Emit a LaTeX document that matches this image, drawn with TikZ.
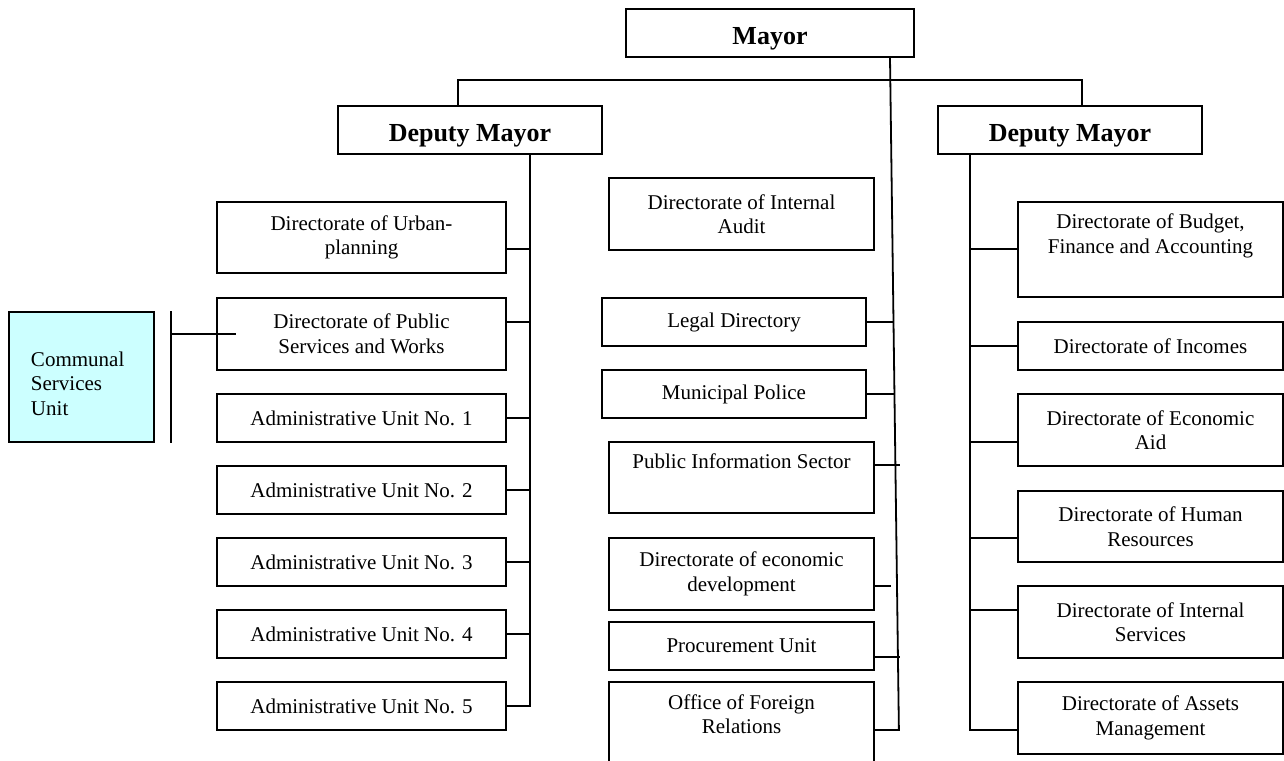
\documentclass[tikz,border=0pt]{standalone}
\usepackage{fontspec}
\setmainfont{Liberation Serif}
\definecolor{unitcyan}{HTML}{CCFFFF}
\begin{document}
\begin{tikzpicture}[x=0.5pt, y=-0.5pt,
		office/.style={draw, line width=0.9pt, align=center, inner sep=0pt, font=\fontsize{10.5}{12.25}\selectfont},
		head/.style={office, font=\fontsize{13}{15}\selectfont\bfseries, minimum height=24pt, text height=11pt, text depth=0pt},
		leftcol/.style={office, minimum width=144.5pt},
		midcol/.style={office, minimum width=132.5pt},
		rightcol/.style={office, minimum width=132.5pt},
		short/.style={minimum height=24pt},
		tall/.style={minimum height=36pt},
		link/.style={line width=0.9pt}]
		  \path[use as bounding box, clip] (0,0) rectangle (1284,760);
		  
		  \node[head, minimum width=144pt] (mayor) at (770,33) {Mayor};
		  \node[head, minimum width=132pt] (dmL) at (470,130) {Deputy Mayor};
		  \node[head, minimum width=132pt] (dmR) at (1070,130) {Deputy Mayor};
		  
		  \node[leftcol, minimum height=35.5pt] (urban) at (361.5,237.5) {Directorate of Urban-\\planning};
		  \node[leftcol, tall] (pubserv) at (361.5,334) {Directorate of Public\\Services and Works};
		  \node[leftcol, short] (adm1) at (361.5,418) {Administrative Unit No. 1};
		  \node[leftcol, short] (adm2) at (361.5,490) {Administrative Unit No. 2};
		  \node[leftcol, short] (adm3) at (361.5,562) {Administrative Unit No. 3};
		  \node[leftcol, short] (adm4) at (361.5,634) {Administrative Unit No. 4};
		  \node[leftcol, short] (adm5) at (361.5,706) {Administrative Unit No. 5};
		  \node[office, fill=unitcyan, minimum width=72.5pt, minimum height=65pt, text width=50.5pt, align=left] (communal) at (81.5,377) {\rule{0pt}{14pt}Communal\\Services\\Unit};
		  
		  \node[midcol, tall] (audit) at (741.5,214) {Directorate of Internal\\Audit};
		  \node[office, minimum width=132pt, short] (legal) at (734,322) {Legal Directory};
		  \node[office, minimum width=132pt, short] (police) at (734,394) {Municipal Police};
		  \node[midcol, minimum height=35.5pt] (pubinfo) at (741.5,477.5) {Public Information Sector\\\strut};
		  \node[midcol, tall] (econdev) at (741.5,574) {Directorate of economic\\development};
		  \node[midcol, short] (procure) at (741.5,646) {Procurement Unit};
		  \node[midcol, minimum height=48pt] (foreign) at (741.5,730) {Office of Foreign\\Relations\\\strut};
		  
		  \node[rightcol, minimum height=47.5pt] (budget) at (1150.5,249.5) {Directorate of Budget,\\Finance and Accounting\\\strut};
		  \node[rightcol, short] (incomes) at (1150.5,346) {Directorate of Incomes};
		  \node[rightcol, tall] (aid) at (1150.5,430) {Directorate of Economic\\Aid};
		  \node[rightcol, minimum height=35.5pt] (hr) at (1150.5,526.5) {Directorate of Human\\Resources};
		  \node[rightcol, tall] (intserv) at (1150.5,622) {Directorate of Internal\\Services};
		  \node[rightcol, tall] (assets) at (1150.5,718) {Directorate of Assets\\Management};
		  
		  \draw[link] ([xshift=-6pt]dmL.north) -- ++(0,-25) -| ([xshift=6pt]dmR.north);
		  \draw[link] ([xshift=60pt]mayor.south) -- ([xshift=12pt]foreign.east) -- (foreign.east);
		  \draw[link] (legal.east) -- ++(26,0);
		  \draw[link] (police.east) -- ++(28,0);
		  \draw[link] ([yshift=6.25pt]pubinfo.east) -- ++(25,0);
		  \draw[link] ([yshift=-6pt]econdev.east) -- ++(16,0);
		  \draw[link] ([yshift=-5.5pt]procure.east) -- ++(25,0);
		  
		  \draw[link] ([xshift=30pt]dmL.south) |- (adm5.east);
		  \draw[link] ([yshift=-5.75pt]urban.east) -- ++(24,0);
		  \draw[link] ([yshift=6pt]pubserv.east) -- ++(24,0);
		  \draw[link] (adm1.east) -- ++(24,0);
		  \draw[link] (adm2.east) -- ++(24,0);
		  \draw[link] (adm3.east) -- ++(24,0);
		  \draw[link] (adm4.east) -- ++(24,0);
		  
		  \draw[link] ([xshift=8pt]communal.north east) -- ([xshift=8pt]communal.south east);
		  \draw[line width=0.6pt] ([xshift=8pt]communal.east |- pubserv.west) -- ([xshift=10pt]pubserv.west);
		  
		  \draw[link] ([xshift=-50pt]dmR.south) |- ([yshift=-6pt]assets.west);
		  \draw[link] ([yshift=0.25pt]budget.west) -- ++(-48,0);
		  \draw[link] (incomes.west) -- ++(-48,0);
		  \draw[link] ([yshift=-6pt]aid.west) -- ++(-48,0);
		  \draw[link] ([yshift=-5.75pt]hr.west) -- ++(-48,0);
		  \draw[link] ([yshift=6pt]intserv.west) -- ++(-48,0);
		\end{tikzpicture}
\end{document}
